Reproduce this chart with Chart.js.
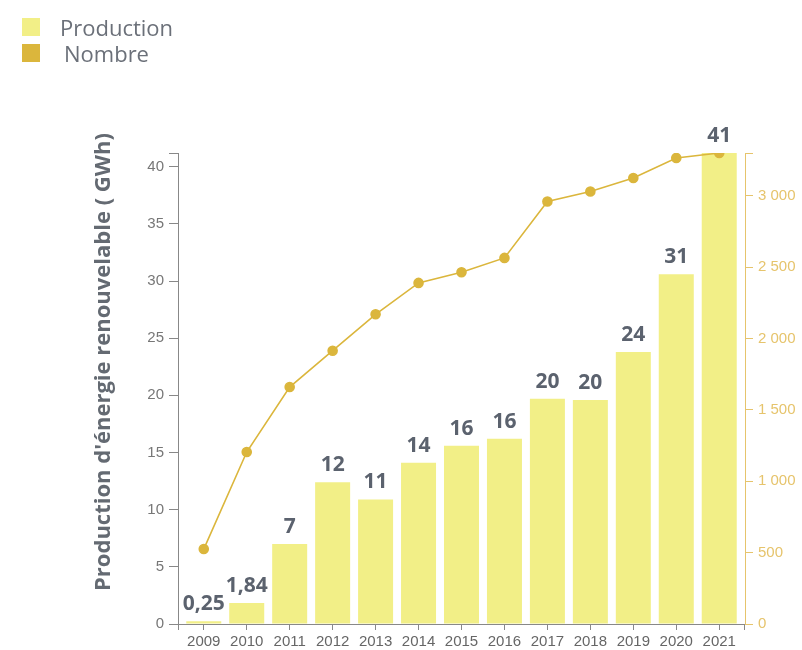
<!DOCTYPE html>
<html>
<head>
<meta charset="utf-8">
<script src="https://cdn.jsdelivr.net/npm/chart.js@4"></script>
<style>
  html, body { margin: 0; padding: 0; background: #fff; }
  #wrap { position: relative; width: 802px; height: 650px; }
  #legend { position: absolute; left: 22px; top: 14px; font-family: "Open Sans", sans-serif; font-size: 22px; color: #6b7079; }
  #legend div { display: flex; align-items: center; height: 26px; }
  #legend span.box { width: 18px; height: 18px; display: inline-block; margin-right: 20px; }
  canvas { position: absolute; left: 0; top: 0; }
</style>
</head>
<body>
<div id="wrap">
  <canvas id="chart" width="802" height="650"></canvas>
  <div id="legend"></div>
</div>
<script>
const years = ['2009', '2010', '2011', '2012', '2013', '2014', '2015', '2016', '2017', '2018', '2019', '2020', '2021'];
const production = [0.25, 1.84, 7.0, 12.4, 10.9, 14.1, 15.6, 16.2, 19.7, 19.6, 23.8, 30.6, 41.2];
const productionLabels = ['0,25', '1,84', '7', '12', '11', '14', '16', '16', '20', '20', '24', '31', '41'];
const nombre = [525, 1205, 1660, 1915, 2170, 2390, 2465, 2565, 2960, 3030, 3125, 3265, 3300];
const leftTicks = [0, 5, 10, 15, 20, 25, 30, 35, 40];
const rightTicks = [0, 500, 1000, 1500, 2000, 2500, 3000];
const leftMax = 41.2;
const rightMax = 3300;

const barColor = '#f2ef87';
const lineColor = '#dbb63c';
const goldText = '#e6c46c';
const yTitle = "Production d'énergie renouvelable ( GWh)";

// value labels above bars + rotated axis title
const extras = {
  id: 'extras',
  afterDatasetsDraw(chart) {
    const ctx = chart.ctx;
    const meta = chart.getDatasetMeta(0);
    ctx.save();
    ctx.font = 'bold 21px "Open Sans", sans-serif';
    ctx.fillStyle = '#5b626e';
    ctx.textAlign = 'center';
    ctx.textBaseline = 'alphabetic';
    meta.data.forEach((bar, i) => {
      ctx.fillText(productionLabels[i], bar.x, bar.y - 11);
    });
    ctx.restore();

    ctx.save();
    ctx.translate(104, 362);
    ctx.rotate(-Math.PI / 2);
    ctx.font = 'bold 22px "Open Sans", sans-serif';
    ctx.fillStyle = '#646a72';
    ctx.textAlign = 'center';
    ctx.textBaseline = 'middle';
    ctx.fillText(yTitle, 0, 0);
    ctx.restore();

    // small tick stubs under the axis corners
    const { left, right, bottom } = chart.chartArea;
    ctx.save();
    ctx.strokeStyle = '#888';
    ctx.lineWidth = 1;
    ctx.beginPath();
    ctx.moveTo(left + 0.5, bottom);
    ctx.lineTo(left + 0.5, bottom + 6);
    ctx.moveTo(right - 0.5, bottom);
    ctx.lineTo(right - 0.5, bottom + 6);
    ctx.stroke();
    ctx.restore();
  }
};

const spaced = v => String(v).replace(/\B(?=(\d{3})+(?!\d))/g, ' ');
const tickFont = { family: 'Liberation Sans', size: 15 };

const chart = new Chart(document.getElementById('chart'), {
  data: {
    labels: years,
    datasets: [
      {
        type: 'bar',
        label: 'Production',
        data: production,
        backgroundColor: barColor,
        yAxisID: 'y',
        barPercentage: 0.815,
        categoryPercentage: 1,
        order: 2
      },
      {
        type: 'line',
        label: 'Nombre',
        data: nombre,
        borderColor: lineColor,
        backgroundColor: lineColor,
        borderWidth: 1.6,
        pointRadius: 4.5,
        pointHoverRadius: 4.5,
        yAxisID: 'y1',
        order: 1
      }
    ]
  },
  options: {
    responsive: false,
    animation: false,
    layout: { padding: { left: 0, right: 0, top: 153, bottom: 0 } },
    plugins: {
      legend: { display: false },
      tooltip: { enabled: false }
    },
    scales: {
      x: {
        afterFit: s => { s.height = 26; },
        // a bit more room at both ends than the default half category
        afterUpdate: s => { s._startValue = -0.6; s._valueRange = years.length - 1 + 1.2; },
        grid: { drawOnChartArea: false, offset: false, color: '#888', tickLength: 6 },
        border: { color: '#888' },
        ticks: { color: '#666', font: tickFont, padding: 3, maxRotation: 0, autoSkip: false }
      },
      y: {
        position: 'left',
        min: 0,
        max: leftMax,
        afterFit: s => { s.width = 178; },
        afterBuildTicks: s => { s.ticks = leftTicks.concat([leftMax]).map(v => ({ value: v })); },
        ticks: { color: '#777', font: tickFont, padding: 5, callback: v => leftTicks.includes(v) ? String(v) : '' },
        grid: { drawOnChartArea: false, color: '#888', tickLength: 9 },
        border: { color: '#888' }
      },
      y1: {
        position: 'right',
        min: 0,
        max: rightMax,
        afterFit: s => { s.width = 57; },
        afterBuildTicks: s => { s.ticks = rightTicks.concat([rightMax]).map(v => ({ value: v })); },
        ticks: { color: goldText, font: tickFont, padding: 5, callback: v => rightTicks.includes(v) ? spaced(v) : '' },
        grid: { drawOnChartArea: false, color: goldText, tickLength: 8 },
        border: { color: goldText }
      }
    }
  },
  plugins: [extras]
});

// legend built from the chart datasets
const legend = document.getElementById('legend');
chart.data.datasets.forEach((ds, i) => {
  const row = document.createElement('div');
  const box = document.createElement('span');
  box.className = 'box';
  box.style.background = ds.backgroundColor;
  row.appendChild(box);
  const txt = document.createElement('span');
  txt.textContent = ds.label;
  if (i === 1) txt.style.marginLeft = '4px';
  row.appendChild(txt);
  legend.appendChild(row);
});
</script>
</body>
</html>
